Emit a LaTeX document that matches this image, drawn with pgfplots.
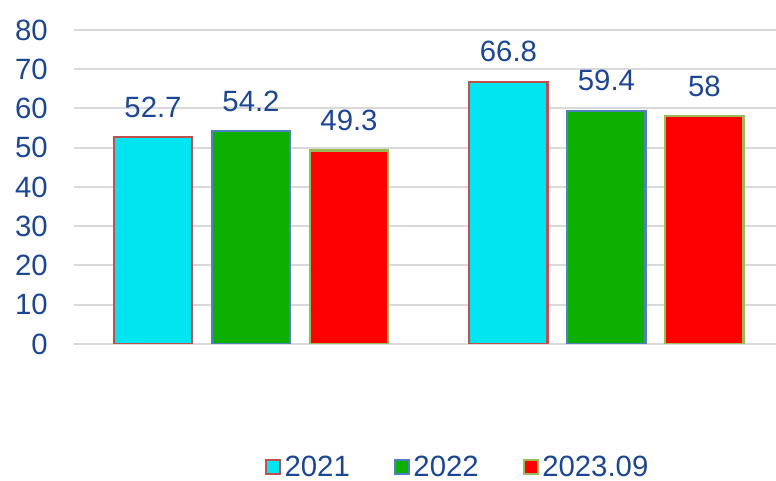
\documentclass[border=0pt]{standalone}
\usepackage{pgfplots}
\pgfplotsset{compat=1.18}
\usepackage{fontspec}
\setmainfont{Liberation Sans}

\definecolor{lbl}{RGB}{28,69,148}
\definecolor{cyanbar}{RGB}{0,229,240}
\definecolor{greenbar}{RGB}{13,175,0}
\definecolor{redbar}{RGB}{255,0,0}
\definecolor{bdred}{RGB}{192,80,77}
\definecolor{bdblue}{RGB}{79,129,189}
\definecolor{bdgreen}{RGB}{155,187,89}
\definecolor{gridgray}{RGB}{217,217,217}

\begin{document}
\begin{tikzpicture}
  \useasboundingbox (0pt,0pt) rectangle (582pt,360.75pt);
  \begin{axis}[
      at={(55.5pt,102.75pt)}, anchor=south west,
      scale only axis, width=526.5pt, height=235.5pt,
      xmin=-0.498, xmax=1.477, ymin=0, ymax=80,
      ytick={0,10,...,80}, xtick=\empty,
      axis line style={draw=none}, major tick length=0pt,
      ymajorgrids, grid style={draw=gridgray, line width=1.5pt},
      /pgf/number format/assume math mode=true,
      tick label style={font=\fontsize{22}{26}\selectfont, text=lbl},
      yticklabel style={anchor=east, inner sep=0pt, xshift=-19.5pt},
      ybar, bar width=0.22,
      every axis plot/.append style={line width=1.6pt},
      nodes near coords,
      every node near coord/.append style={font=\fontsize{22}{26}\selectfont, text=lbl,
        anchor=south, inner sep=0pt, yshift=14pt},
      legend columns=3,
      legend style={draw=none, fill=none, at={(0.266,-0.392)}, anchor=west,
        font=\fontsize{22}{26}\selectfont, text=lbl,
        /tikz/every even column/.append style={column sep=30.5pt},
        nodes={inner sep=2.5pt}},
      legend image code/.code={\draw[#1, line width=1.6pt] (0pt,-5.3pt) rectangle (10.6pt,5.3pt);},
    ]
    \addplot[fill=cyanbar, draw=bdred, bar shift=-0.2757] coordinates {(0,52.7) (1,66.8)};
    \addplot[fill=greenbar, draw=bdblue, bar shift=0] coordinates {(0,54.2) (1,59.4)};
    \addplot[fill=redbar, draw=bdgreen, bar shift=0.2757] coordinates {(0,49.3) (1,58)};
    \legend{2021,2022,2023.09}
  \end{axis}
\end{tikzpicture}
\end{document}
